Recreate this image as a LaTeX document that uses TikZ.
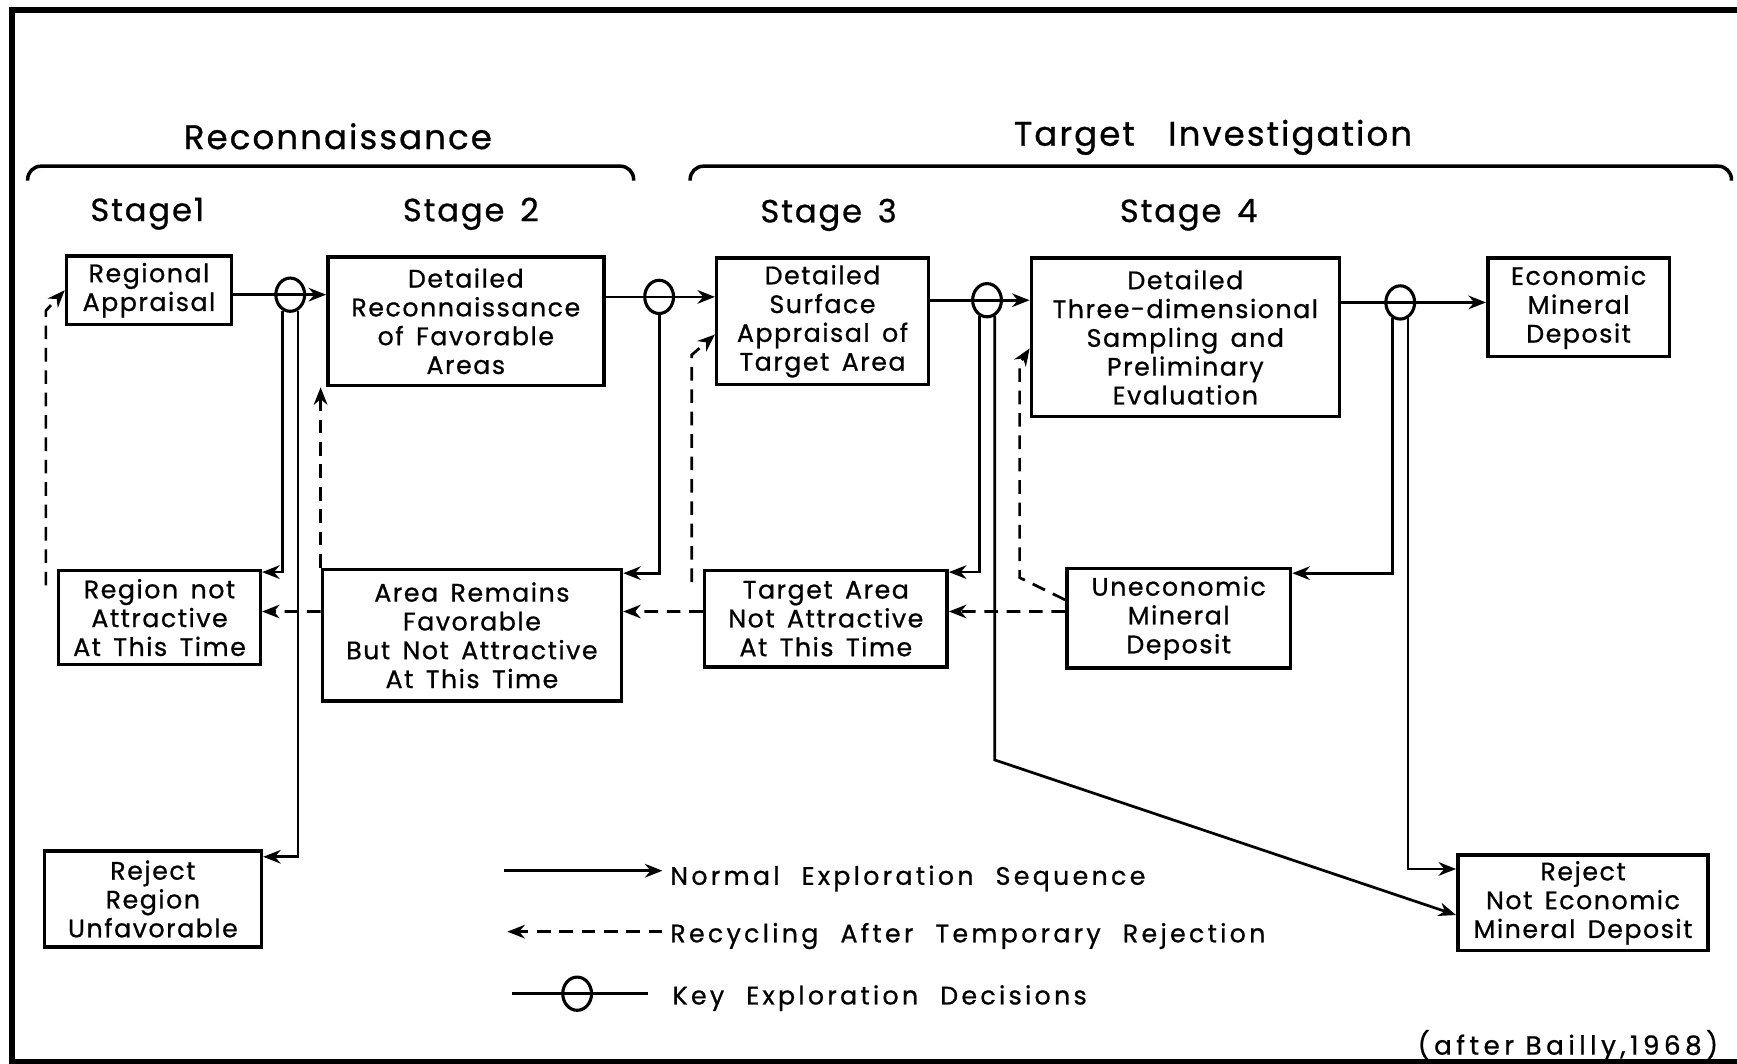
\documentclass[tikz,border=0pt]{standalone}
\usepackage{fontspec}
\setmainfont{Poppins}[LetterSpace=6,WordSpace=1.5,FakeBold=0.8]
\newfontfamily\legendfont{Poppins}[LetterSpace=13,WordSpace=2.2,FakeBold=0.8]
\newfontfamily\creditfont{Poppins}[LetterSpace=17,FakeBold=0.8]
\newfontfamily\widefont{Poppins}[LetterSpace=6,WordSpace=3,FakeBold=0.8]
\usetikzlibrary{arrows.meta,shapes.geometric}

\begin{document}
\begin{tikzpicture}[%
x=0.02cm, y=-0.02cm,
>={Stealth[length=9pt,width=7pt]},
line width=1.4pt,
box/.style={draw, line width=1.8pt, align=center, inner sep=0pt, font=\fontsize{13}{14.8}\selectfont},
boxsize/.style 2 args={minimum width=#1*0.02cm, minimum height=#2*0.02cm},
flow/.style={->},
recycle/.style={->, dash pattern=on 7pt off 4.5pt},
decision/.style={draw, ellipse, line width=1.6pt, minimum width=0.52cm, minimum height=0.6cm, inner sep=0pt},
heading/.style={font=\fontsize{17.5}{20}\selectfont},
stagelabel/.style={font=\fontsize{16.5}{20}\selectfont},
legend/.style={anchor=west, font=\legendfont\fontsize{13}{15}\selectfont},
]
\useasboundingbox (0,0) rectangle (1568,960);
%% frame;
\draw[line width=2.8pt] (1568,9) -- (11,9) -- (11,958) -- (1568,958);
%% phases;
\node[heading] (recontitle) at (305,123) {Reconnaissance};
\node[heading, font=\widefont\fontsize{17.5}{20}\selectfont] (targettitle) at (1095,124) {Target Investigation};
\draw[line width=1.8pt, rounded corners=0.24cm] (25,163) -- (25,150) -- (572,150) -- (572,163);
\draw[line width=1.8pt, rounded corners=0.24cm] (623,163) -- (623,150) -- (1563,150) -- (1563,163);
%% stages;
\node[stagelabel] (stage1) at (133,193) {Stage1};
\node[stagelabel] (stage2) at (425,193) {Stage 2};
\node[stagelabel] (stage3) at (748,194) {Stage 3};
\node[stagelabel] (stage4) at (1073,194) {Stage 4};
%% boxes, top row;
\node[box, boxsize={149}{62}] (regional) at (134.5,262) {Regional\\Appraisal};
\node[box, boxsize={249}{116}] (recon) at (420.5,290) {Detailed\\Reconnaissance\\of Favorable\\Areas};
\node[box, boxsize={191}{114}] (surface) at (742.5,290) {Detailed\\Surface\\Appraisal of\\Target Area};
\node[box, boxsize={278}{143}] (threed) at (1070,304.5) {Detailed\\Three-dimensional\\Sampling and\\Preliminary\\Evaluation};
\node[box, boxsize={164}{89}] (economic) at (1425,277.5) {Economic\\Mineral\\Deposit};
%% boxes, middle row;
\node[box, boxsize={182}{85}] (regionnot) at (144,557.5) {Region not\\Attractive\\At This Time};
\node[box, boxsize={270}{119}] (areafav) at (426,573.5) {Area Remains\\Favorable\\But Not Attractive\\At This Time};
\node[box, boxsize={219}{87}] (targetnot) at (745.5,558.5) {Target Area\\Not Attractive\\At This Time};
\node[box, boxsize={202}{90}] (uneconomic) at (1064,558) {Uneconomic\\Mineral\\Deposit};
%% boxes, rejects;
\node[box, boxsize={196}{87}] (rejectregion) at (138,811.5) {Reject\\Region\\Unfavorable};
\node[box, boxsize={226}{86}] (rejectdeposit) at (1429,815) {Reject\\Not Economic\\Mineral Deposit};
%% decisions;
\node[decision] (dec1) at (262,266) {};
\node[decision] (dec2) at (595,268) {};
\node[decision] (dec3) at (891,271) {};
\node[decision] (dec4) at (1264,273) {};
%% normal sequence;
\draw[flow] (regional.east |- dec1.center) -- (recon.west |- dec1.center);
\draw[flow] (recon.east |- dec2.center) -- (surface.west |- dec2.center);
\draw[flow] (surface.east |- dec3.center) -- (threed.west |- dec3.center);
\draw[flow] (threed.east |- dec4.center) -- (economic.west |- dec4.center);
\draw[flow] (dec1.-116) |- ([yshift=-0.06cm]regionnot.north east);
\draw[flow] (dec1.-64) |- ([yshift=-0.14cm]rejectregion.north east);
\draw[flow] (dec2.south) |- ([yshift=-0.1cm]areafav.north east);
\draw[flow] (dec3.-116) |- ([yshift=-0.06cm]targetnot.north east);
\draw[flow] (dec3.-64) -- (dec3.-64 |- 0,686) -- ([yshift=-0.22cm]rejectdeposit.west);
\draw[flow] (dec4.-116) |- ([yshift=-0.12cm]uneconomic.north east);
\draw[flow] (dec4.-64) |- ([yshift=-0.28cm]rejectdeposit.north west);
%% recycling;
\draw[recycle] ([xshift=-0.2cm,yshift=-0.3cm]regionnot.north west) -- ++(0,-248) -- (regional.west);
\draw[recycle] (areafav.north west) -- (areafav.north west |- recon.south);
\draw[recycle] ([yshift=0.43cm]areafav.west) -- ([yshift=0.11cm]regionnot.east);
\draw[recycle] ([yshift=0.13cm]targetnot.west) -- ([yshift=0.43cm]areafav.east);
\draw[recycle] ([xshift=-0.2cm,yshift=-0.24cm]targetnot.north west) -- ++(0,-205) -- ([yshift=-0.24cm]surface.west);
\draw[recycle] ([yshift=0.12cm]uneconomic.west) -- ([yshift=0.13cm]targetnot.east);
\draw[recycle] ([yshift=-0.6cm]uneconomic.north west) -- ++(-41,-20) -- ++(0,-193) -- ([yshift=-0.2cm]threed.west);
%% legend;
\node[legend] (lgflow) at (598,793) {Normal Exploration Sequence};
\coordinate (lgflowstart) at (455,786);
\draw[flow] (lgflowstart) -- (lgflow.west |- lgflowstart);
\node[legend] (lgrecycle) at (598,845) {Recycling After Temporary Rejection};
\coordinate (lgrecycleend) at (458,841);
\draw[recycle] (lgrecycle.west |- lgrecycleend) -- (lgrecycleend);
\node[legend] (lgdecision) at (600,901) {Key Exploration Decisions};
\node[decision] (lgdec) at (521,897) {};
\coordinate (lgdecstart) at (462,897);
\draw (lgdecstart) -- ([xshift=-0.3cm]lgdecision.west |- lgdecstart);
%% source;
\node[legend, anchor=east, font=\creditfont\fontsize{13.5}{15}\selectfont] (credit) at (1558,944) {(after Bailly,1968)};
\end{tikzpicture}
\end{document}
